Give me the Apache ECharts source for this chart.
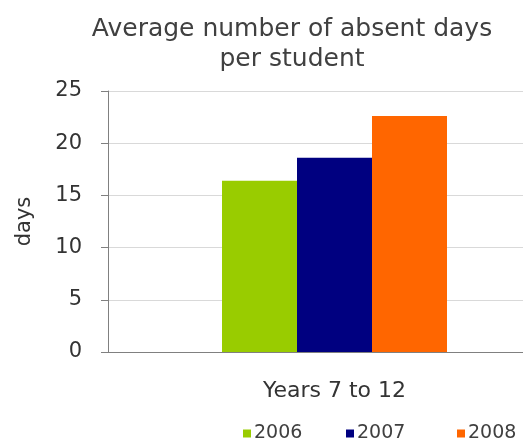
<!DOCTYPE html>
<html>
<head>
<meta charset="utf-8">
<script src="https://cdn.jsdelivr.net/npm/echarts@6/dist/echarts.min.js"></script>
<style>html,body{margin:0;padding:0;background:#fff}#c{width:523px;height:441px}</style>
</head>
<body>
<div id="c"></div>
<script>
const categories = ["Years 7 to 12"];
const seriesNames = ["2006", "2007", "2008"];
const values2006 = [16.4];
const values2007 = [18.6];
const values2008 = [22.6];
const colors = ["#99cc00", "#000080", "#ff6600"];
const font = "'DejaVu Sans', sans-serif";
const legendLefts = [243, 346, 457];

const chart = echarts.init(document.getElementById('c'), null, {renderer: 'canvas'});
chart.setOption({
  animation: false,
  backgroundColor: '#fff',
  title: {
    text: 'Average number of absent days\nper student',
    left: 287, top: 9, textAlign: 'center',
    textStyle: {fontFamily: font, fontSize: 25, fontWeight: 'normal', color: '#404040', lineHeight: 30}
  },
  legend: seriesNames.map((n, i) => ({
    data: [n],
    left: legendLefts[i], top: 424, padding: 0,
    itemWidth: 8, itemHeight: 8,
    icon: 'rect',
    textStyle: {fontFamily: font, fontSize: 19, color: '#404040', padding: [0,0,0,-2]}
  })),
  grid: {left: 108, top: 91, height: 261, width: 453, outerBoundsMode: 'none', containLabel: false},
  xAxis: {
    type: 'category', data: categories,
    axisLine: {lineStyle: {color: '#808080', width: 1}},
    axisTick: {show: false},
    axisLabel: {fontFamily: font, fontSize: 22, color: '#333', margin: 28}
  },
  yAxis: {
    type: 'value', min: 0, max: 25, interval: 5,
    name: 'days', nameLocation: 'middle', nameGap: 73, nameRotate: 90,
    nameTextStyle: {fontFamily: font, fontSize: 21, color: '#333'},
    axisLine: {show: true, lineStyle: {color: '#808080'}},
    axisTick: {show: true, length: 7, lineStyle: {color: '#808080'}},
    axisLabel: {fontFamily: font, fontSize: 21, color: '#333', margin: 26},
    splitLine: {lineStyle: {color: '#d9d9d9'}}
  },
  series: [
    {name: seriesNames[0], type: 'bar', data: values2006, itemStyle: {color: colors[0]}, barWidth: 75, barGap: '0%'},
    {name: seriesNames[1], type: 'bar', data: values2007, itemStyle: {color: colors[1]}, barWidth: 75, barGap: '0%'},
    {name: seriesNames[2], type: 'bar', data: values2008, itemStyle: {color: colors[2]}, barWidth: 75, barGap: '0%'}
  ]
});
</script>
</body>
</html>
